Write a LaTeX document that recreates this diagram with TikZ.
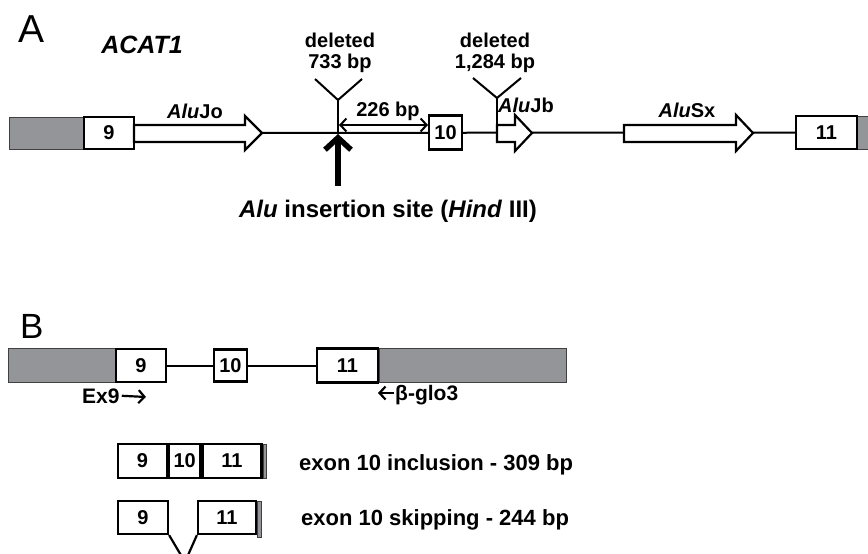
\documentclass[tikz,border=0pt]{standalone}
\usepackage{fontspec}
\setmainfont{Liberation Sans}
\usetikzlibrary{arrows.meta}
\definecolor{gbar}{RGB}{148,149,153}
\pgfdeclarelayer{bg}
\pgfsetlayers{bg,main}
\begin{document}
\begin{tikzpicture}[x=1pt,y=-1pt,
  exon/.style={draw=black, line width=2.2pt, fill=white, inner sep=0pt, font=\fontsize{20}{20}\selectfont\bfseries},
  utr/.style={draw=black!75, line width=1pt, fill=gbar, inner sep=0pt},
  intron/.style={line width=2pt},
  alu/.style={draw=black, line width=2.2pt, fill=white, line join=miter},
  lbl/.style={font=\fontsize{20}{20}\selectfont\bfseries, inner sep=0pt, anchor=base},
  big/.style={font=\fontsize{24}{24}\selectfont\bfseries, inner sep=0pt, anchor=base},
  res/.style={font=\fontsize{22}{22}\selectfont\bfseries, inner sep=0pt, anchor=base west},
  panel/.style={font=\fontsize{39}{39}\selectfont, inner sep=0pt, anchor=base west},
  barb/.style={-{Straight Barb[length=6pt,width=13pt]}},
  dbarb/.style={{Straight Barb[length=6pt,width=13pt]}-{Straight Barb[length=6pt,width=13pt]}}
]
\path[use as bounding box] (0,0) rectangle (868,554);

% ---------------- Panel A ----------------
\node[panel] (labA) at (18,42) {A};
\node[big, font=\fontsize{25}{25}\selectfont\bfseries\itshape] (acat) at (142,53) {ACAT1};

\node[utr, minimum width=75pt, minimum height=32pt] (u5a) at (46.5,133) {};
\node[exon, minimum width=50pt, minimum height=32pt] (e9a) at (109,133) {9};
\node[exon, minimum width=33pt, minimum height=34pt] (e10a) at (445.5,132.5) {10};
\node[exon, minimum width=61pt, minimum height=33pt] (e11a) at (826.5,132.5) {11};
\fill[gbar] (858,116) rectangle (868,149);
\draw[black!75, line width=1pt] (858,116) -- (868,116) (858,149) -- (868,149);

\begin{pgfonlayer}{bg}
\draw[intron] (e9a.east) -- (e11a.west);
\end{pgfonlayer}

% Alu elements
\draw[alu] (134,125) -- (245,125) -- (245,116) -- (262,133) coordinate (jotip) -- (245,150) -- (245,142) -- (134,142) -- cycle;
\draw[alu] (497,125) -- (515,125) -- (515,115) -- (532,133) coordinate (jbtip) -- (515,151) -- (515,142) -- (497,142) -- cycle;
\draw[alu] (624,125) -- (736,125) -- (736,115) -- (753,133) coordinate (sxtip) -- (736,151) -- (736,142) -- (624,142) -- cycle;
\node[lbl] (ajo) at (195,118) {\textit{Alu}Jo};
\node[lbl] (ajb) at (526,112) {\textit{Alu}Jb};
\node[lbl] (asx) at (687,117) {\textit{Alu}Sx};

% deletion 1
\coordinate (d1) at (338,100);
\coordinate (d1l) at (315,79);
\coordinate (d1r) at (362,79);
\coordinate (d1b) at (338,133);
\draw[intron] (d1l) -- (d1) -- (d1r);
\draw[intron] (d1) -- (d1b);
\node[lbl] (del1) at (340,47) {deleted};
\node[lbl] (bp1) at (340,68) {733 bp};

% deletion 2
\coordinate (d2) at (497,98);
\coordinate (d2l) at (473,78);
\coordinate (d2r) at (521,78);
\coordinate (d2b) at (497,125);
\draw[intron] (d2l) -- (d2) -- (d2r);
\draw[intron] (d2) -- (d2b);
\node[lbl] (del2) at (495,47) {deleted};
\node[lbl] (bp2) at (495,68) {1,284 bp};

% 226 bp
\coordinate (m1) at (339,125);
\coordinate (m2) at (428,125);
\draw[line width=2pt, dbarb] (m1) -- (m2);
\node[lbl] (d226) at (388,116) {226 bp};

% insertion arrow
\coordinate (ins) at (338,134);
\coordinate (insb) at (338,186);
\draw[line width=5.5pt, -{Straight Barb[length=12pt,width=26pt]}] (insb) -- (ins);
\node[big] (site) at (388,217) {\textit{Alu} insertion site (\textit{Hind} III)};

% ---------------- Panel B ----------------
\node[panel, font=\fontsize{35}{35}\selectfont] (labB) at (20,338) {B};
\node[utr, minimum width=108pt, minimum height=34pt] (u5b) at (62,365.5) {};
\node[exon, minimum width=50pt, minimum height=33pt] (e9b) at (141,365.5) {9};
\node[exon, minimum width=33pt, minimum height=32pt] (e10b) at (230.5,365.5) {10};
\node[exon, minimum width=61pt, minimum height=34pt] (e11b) at (347.5,365.5) {11};
\node[utr, minimum width=187pt, minimum height=34pt, anchor=west] (u3b) at (e11b.east) {};
\begin{pgfonlayer}{bg}
\draw[intron] (e9b.east) -- (e10b.west);
\draw[intron] (e10b.east) -- (e11b.west);
\end{pgfonlayer}

\node[lbl, font=\fontsize{21}{21}\selectfont\bfseries, anchor=base west] (ex9) at (82,403) {Ex9};
\coordinate (ex9e) at (146,397);
\draw[line width=2.2pt, barb] ([xshift=2pt]ex9.east) -- (ex9e);
\node[lbl, font=\fontsize{21}{21}\selectfont\bfseries, anchor=base west] (bglo) at (395,400) {β-glo3};
\coordinate (bgle) at (378,393);
\draw[line width=2.2pt, barb] (bglo.base west) ++(-1,-7) -- (bgle);

% inclusion product
\node[exon, minimum width=49pt, minimum height=34pt] (e9i) at (142.5,461) {9};
\node[exon, minimum width=31pt, minimum height=34pt, anchor=west] (e10i) at (e9i.east) {10};
\node[exon, minimum width=59pt, minimum height=34pt, anchor=west] (e11i) at (e10i.east) {11};
\node[utr, minimum width=3.5pt, minimum height=34pt, anchor=west] (ui) at (e11i.east) {};
\node[res] (tinc) at (299,470) {exon 10 inclusion - 309 bp};

% skipping product
\node[exon, minimum width=50pt, minimum height=33pt] (e9s) at (143,517.5) {9};
\node[exon, minimum width=58pt, minimum height=33pt] (e11s) at (227,517.5) {11};
\node[utr, minimum width=3.5pt, minimum height=36pt, anchor=west] (us) at ([yshift=-1.5pt]e11s.east) {};
\coordinate (vjoin) at (185,562);
\draw[line width=2.2pt] (e9s.south east) -- (vjoin) -- (e11s.south west);
\node[res] (tskip) at (301,525) {exon 10 skipping - 244 bp};
\end{tikzpicture}
\end{document}
